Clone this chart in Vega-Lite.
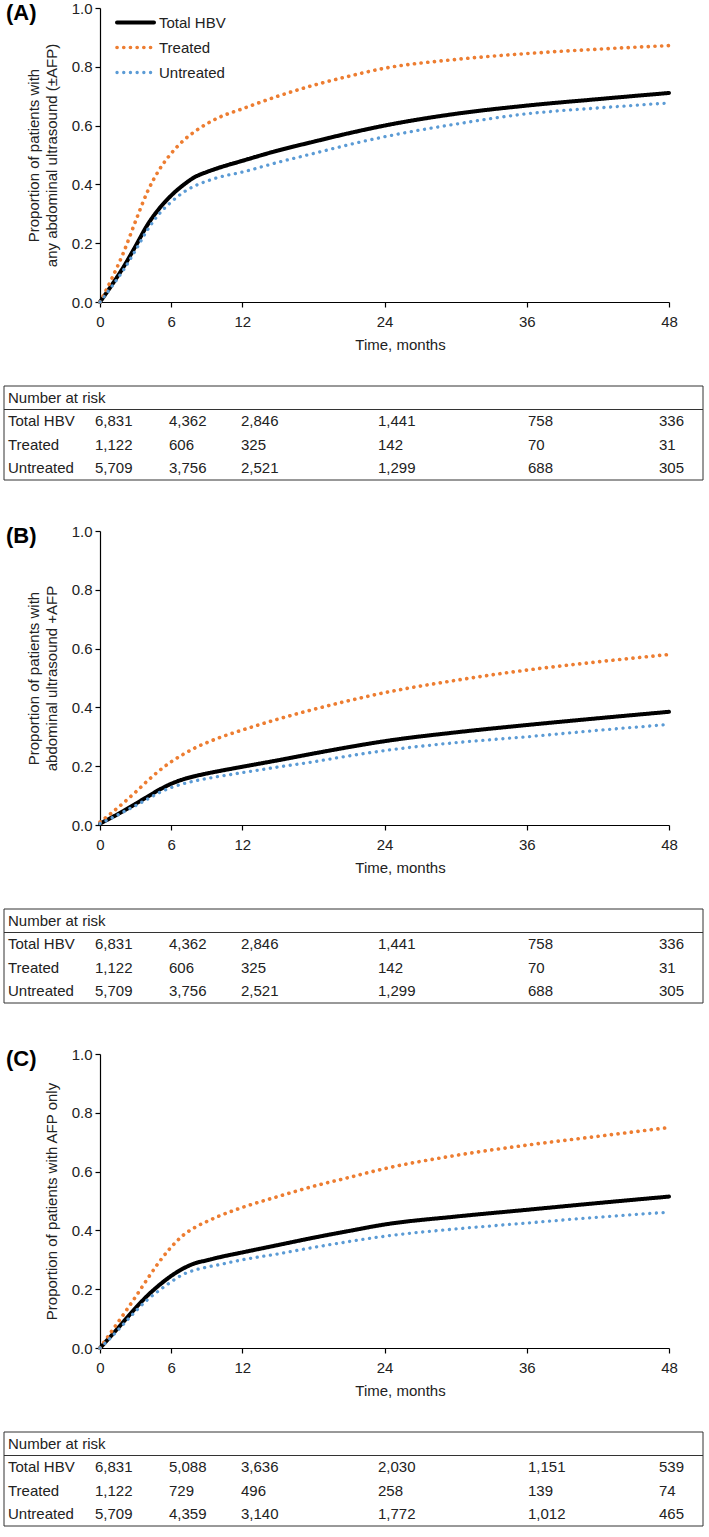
{
  "$schema": "https://vega.github.io/schema/vega-lite/v6.json",
  "padding": {"left": 3, "top": 1, "right": 6, "bottom": 1},
  "background": "white",
  "config": {
    "font": "Liberation Sans",
    "view": {"stroke": null},
    "axis": {"grid": false, "domainColor": "#000", "tickColor": "#000", "labelColor": "#222", "titleColor": "#222", "labelFontSize": 15, "titleFontSize": 15, "titleFontWeight": "normal", "tickSize": 5, "domainWidth": 1.2, "tickWidth": 1.2},
    "legend": {"labelFontSize": 15, "labelColor": "#222"}
  },
  "datasets": {
    "curves": [
      {"panel":"A","series":"Total HBV","month":0,"value":0},{"panel":"A","series":"Total HBV","month":1,"value":0.058},{"panel":"A","series":"Total HBV","month":2,"value":0.12},{"panel":"A","series":"Total HBV","month":3,"value":0.19},{"panel":"A","series":"Total HBV","month":4,"value":0.262},{"panel":"A","series":"Total HBV","month":5,"value":0.318},{"panel":"A","series":"Total HBV","month":6,"value":0.362},{"panel":"A","series":"Total HBV","month":7,"value":0.397},{"panel":"A","series":"Total HBV","month":8,"value":0.425},{"panel":"A","series":"Total HBV","month":9,"value":0.442},{"panel":"A","series":"Total HBV","month":10,"value":0.456},{"panel":"A","series":"Total HBV","month":12,"value":0.48},{"panel":"A","series":"Total HBV","month":15,"value":0.515},{"panel":"A","series":"Total HBV","month":18,"value":0.545},{"panel":"A","series":"Total HBV","month":21,"value":0.574},{"panel":"A","series":"Total HBV","month":24,"value":0.6},{"panel":"A","series":"Total HBV","month":30,"value":0.64},{"panel":"A","series":"Total HBV","month":36,"value":0.668},{"panel":"A","series":"Total HBV","month":42,"value":0.69},{"panel":"A","series":"Total HBV","month":48,"value":0.711},
      {"panel":"A","series":"Treated","month":0,"value":0},{"panel":"A","series":"Treated","month":1,"value":0.08},{"panel":"A","series":"Treated","month":2,"value":0.17},{"panel":"A","series":"Treated","month":3,"value":0.275},{"panel":"A","series":"Treated","month":4,"value":0.375},{"panel":"A","series":"Treated","month":5,"value":0.45},{"panel":"A","series":"Treated","month":6,"value":0.505},{"panel":"A","series":"Treated","month":7,"value":0.548},{"panel":"A","series":"Treated","month":8,"value":0.58},{"panel":"A","series":"Treated","month":9,"value":0.606},{"panel":"A","series":"Treated","month":10,"value":0.627},{"panel":"A","series":"Treated","month":12,"value":0.657},{"panel":"A","series":"Treated","month":15,"value":0.7},{"panel":"A","series":"Treated","month":18,"value":0.737},{"panel":"A","series":"Treated","month":21,"value":0.768},{"panel":"A","series":"Treated","month":24,"value":0.795},{"panel":"A","series":"Treated","month":30,"value":0.825},{"panel":"A","series":"Treated","month":36,"value":0.845},{"panel":"A","series":"Treated","month":42,"value":0.86},{"panel":"A","series":"Treated","month":48,"value":0.872},
      {"panel":"A","series":"Untreated","month":0,"value":0},{"panel":"A","series":"Untreated","month":1,"value":0.053},{"panel":"A","series":"Untreated","month":2,"value":0.11},{"panel":"A","series":"Untreated","month":3,"value":0.176},{"panel":"A","series":"Untreated","month":4,"value":0.245},{"panel":"A","series":"Untreated","month":5,"value":0.3},{"panel":"A","series":"Untreated","month":6,"value":0.34},{"panel":"A","series":"Untreated","month":7,"value":0.372},{"panel":"A","series":"Untreated","month":8,"value":0.395},{"panel":"A","series":"Untreated","month":9,"value":0.411},{"panel":"A","series":"Untreated","month":10,"value":0.424},{"panel":"A","series":"Untreated","month":12,"value":0.442},{"panel":"A","series":"Untreated","month":15,"value":0.475},{"panel":"A","series":"Untreated","month":18,"value":0.505},{"panel":"A","series":"Untreated","month":21,"value":0.535},{"panel":"A","series":"Untreated","month":24,"value":0.562},{"panel":"A","series":"Untreated","month":30,"value":0.605},{"panel":"A","series":"Untreated","month":36,"value":0.64},{"panel":"A","series":"Untreated","month":42,"value":0.66},{"panel":"A","series":"Untreated","month":48,"value":0.677},
      {"panel":"B","series":"Total HBV","month":0,"value":0.005},{"panel":"B","series":"Total HBV","month":1,"value":0.026},{"panel":"B","series":"Total HBV","month":2,"value":0.048},{"panel":"B","series":"Total HBV","month":3,"value":0.072},{"panel":"B","series":"Total HBV","month":4,"value":0.096},{"panel":"B","series":"Total HBV","month":5,"value":0.12},{"panel":"B","series":"Total HBV","month":6,"value":0.14},{"panel":"B","series":"Total HBV","month":7,"value":0.155},{"panel":"B","series":"Total HBV","month":8,"value":0.166},{"panel":"B","series":"Total HBV","month":9,"value":0.175},{"panel":"B","series":"Total HBV","month":10,"value":0.183},{"panel":"B","series":"Total HBV","month":12,"value":0.198},{"panel":"B","series":"Total HBV","month":15,"value":0.22},{"panel":"B","series":"Total HBV","month":18,"value":0.243},{"panel":"B","series":"Total HBV","month":21,"value":0.265},{"panel":"B","series":"Total HBV","month":24,"value":0.285},{"panel":"B","series":"Total HBV","month":30,"value":0.315},{"panel":"B","series":"Total HBV","month":36,"value":0.34},{"panel":"B","series":"Total HBV","month":42,"value":0.363},{"panel":"B","series":"Total HBV","month":48,"value":0.385},
      {"panel":"B","series":"Treated","month":0,"value":0.01},{"panel":"B","series":"Treated","month":1,"value":0.042},{"panel":"B","series":"Treated","month":2,"value":0.076},{"panel":"B","series":"Treated","month":3,"value":0.112},{"panel":"B","series":"Treated","month":4,"value":0.15},{"panel":"B","series":"Treated","month":5,"value":0.185},{"panel":"B","series":"Treated","month":6,"value":0.215},{"panel":"B","series":"Treated","month":7,"value":0.24},{"panel":"B","series":"Treated","month":8,"value":0.262},{"panel":"B","series":"Treated","month":9,"value":0.28},{"panel":"B","series":"Treated","month":10,"value":0.296},{"panel":"B","series":"Treated","month":12,"value":0.323},{"panel":"B","series":"Treated","month":15,"value":0.36},{"panel":"B","series":"Treated","month":18,"value":0.393},{"panel":"B","series":"Treated","month":21,"value":0.423},{"panel":"B","series":"Treated","month":24,"value":0.45},{"panel":"B","series":"Treated","month":30,"value":0.492},{"panel":"B","series":"Treated","month":36,"value":0.527},{"panel":"B","series":"Treated","month":42,"value":0.555},{"panel":"B","series":"Treated","month":48,"value":0.58},
      {"panel":"B","series":"Untreated","month":0,"value":0.005},{"panel":"B","series":"Untreated","month":1,"value":0.024},{"panel":"B","series":"Untreated","month":2,"value":0.045},{"panel":"B","series":"Untreated","month":3,"value":0.066},{"panel":"B","series":"Untreated","month":4,"value":0.088},{"panel":"B","series":"Untreated","month":5,"value":0.11},{"panel":"B","series":"Untreated","month":6,"value":0.127},{"panel":"B","series":"Untreated","month":7,"value":0.14},{"panel":"B","series":"Untreated","month":8,"value":0.15},{"panel":"B","series":"Untreated","month":9,"value":0.158},{"panel":"B","series":"Untreated","month":10,"value":0.165},{"panel":"B","series":"Untreated","month":12,"value":0.178},{"panel":"B","series":"Untreated","month":15,"value":0.197},{"panel":"B","series":"Untreated","month":18,"value":0.215},{"panel":"B","series":"Untreated","month":21,"value":0.235},{"panel":"B","series":"Untreated","month":24,"value":0.253},{"panel":"B","series":"Untreated","month":30,"value":0.28},{"panel":"B","series":"Untreated","month":36,"value":0.3},{"panel":"B","series":"Untreated","month":42,"value":0.322},{"panel":"B","series":"Untreated","month":48,"value":0.342},
      {"panel":"C","series":"Total HBV","month":0,"value":0},{"panel":"C","series":"Total HBV","month":1,"value":0.044},{"panel":"C","series":"Total HBV","month":2,"value":0.09},{"panel":"C","series":"Total HBV","month":3,"value":0.136},{"panel":"C","series":"Total HBV","month":4,"value":0.178},{"panel":"C","series":"Total HBV","month":5,"value":0.214},{"panel":"C","series":"Total HBV","month":6,"value":0.245},{"panel":"C","series":"Total HBV","month":7,"value":0.27},{"panel":"C","series":"Total HBV","month":8,"value":0.288},{"panel":"C","series":"Total HBV","month":9,"value":0.298},{"panel":"C","series":"Total HBV","month":10,"value":0.308},{"panel":"C","series":"Total HBV","month":12,"value":0.325},{"panel":"C","series":"Total HBV","month":15,"value":0.35},{"panel":"C","series":"Total HBV","month":18,"value":0.375},{"panel":"C","series":"Total HBV","month":21,"value":0.398},{"panel":"C","series":"Total HBV","month":24,"value":0.42},{"panel":"C","series":"Total HBV","month":30,"value":0.447},{"panel":"C","series":"Total HBV","month":36,"value":0.47},{"panel":"C","series":"Total HBV","month":42,"value":0.493},{"panel":"C","series":"Total HBV","month":48,"value":0.515},
      {"panel":"C","series":"Treated","month":0,"value":0},{"panel":"C","series":"Treated","month":1,"value":0.058},{"panel":"C","series":"Treated","month":2,"value":0.115},{"panel":"C","series":"Treated","month":3,"value":0.174},{"panel":"C","series":"Treated","month":4,"value":0.235},{"panel":"C","series":"Treated","month":5,"value":0.293},{"panel":"C","series":"Treated","month":6,"value":0.343},{"panel":"C","series":"Treated","month":7,"value":0.383},{"panel":"C","series":"Treated","month":8,"value":0.41},{"panel":"C","series":"Treated","month":9,"value":0.43},{"panel":"C","series":"Treated","month":10,"value":0.448},{"panel":"C","series":"Treated","month":12,"value":0.478},{"panel":"C","series":"Treated","month":15,"value":0.515},{"panel":"C","series":"Treated","month":18,"value":0.55},{"panel":"C","series":"Treated","month":21,"value":0.58},{"panel":"C","series":"Treated","month":24,"value":0.61},{"panel":"C","series":"Treated","month":30,"value":0.655},{"panel":"C","series":"Treated","month":36,"value":0.69},{"panel":"C","series":"Treated","month":42,"value":0.72},{"panel":"C","series":"Treated","month":48,"value":0.75},
      {"panel":"C","series":"Untreated","month":0,"value":0},{"panel":"C","series":"Untreated","month":1,"value":0.039},{"panel":"C","series":"Untreated","month":2,"value":0.082},{"panel":"C","series":"Untreated","month":3,"value":0.125},{"panel":"C","series":"Untreated","month":4,"value":0.164},{"panel":"C","series":"Untreated","month":5,"value":0.196},{"panel":"C","series":"Untreated","month":6,"value":0.225},{"panel":"C","series":"Untreated","month":7,"value":0.25},{"panel":"C","series":"Untreated","month":8,"value":0.265},{"panel":"C","series":"Untreated","month":9,"value":0.275},{"panel":"C","series":"Untreated","month":10,"value":0.283},{"panel":"C","series":"Untreated","month":12,"value":0.3},{"panel":"C","series":"Untreated","month":15,"value":0.32},{"panel":"C","series":"Untreated","month":18,"value":0.342},{"panel":"C","series":"Untreated","month":21,"value":0.362},{"panel":"C","series":"Untreated","month":24,"value":0.38},{"panel":"C","series":"Untreated","month":30,"value":0.405},{"panel":"C","series":"Untreated","month":36,"value":0.425},{"panel":"C","series":"Untreated","month":42,"value":0.445},{"panel":"C","series":"Untreated","month":48,"value":0.462}
    ],
    "risk": [
      {"panel":"A","group":"Total HBV","month":0,"n":6831},{"panel":"A","group":"Total HBV","month":6,"n":4362},{"panel":"A","group":"Total HBV","month":12,"n":2846},{"panel":"A","group":"Total HBV","month":24,"n":1441},{"panel":"A","group":"Total HBV","month":36,"n":758},{"panel":"A","group":"Total HBV","month":48,"n":336},
      {"panel":"A","group":"Treated","month":0,"n":1122},{"panel":"A","group":"Treated","month":6,"n":606},{"panel":"A","group":"Treated","month":12,"n":325},{"panel":"A","group":"Treated","month":24,"n":142},{"panel":"A","group":"Treated","month":36,"n":70},{"panel":"A","group":"Treated","month":48,"n":31},
      {"panel":"A","group":"Untreated","month":0,"n":5709},{"panel":"A","group":"Untreated","month":6,"n":3756},{"panel":"A","group":"Untreated","month":12,"n":2521},{"panel":"A","group":"Untreated","month":24,"n":1299},{"panel":"A","group":"Untreated","month":36,"n":688},{"panel":"A","group":"Untreated","month":48,"n":305},
      {"panel":"B","group":"Total HBV","month":0,"n":6831},{"panel":"B","group":"Total HBV","month":6,"n":4362},{"panel":"B","group":"Total HBV","month":12,"n":2846},{"panel":"B","group":"Total HBV","month":24,"n":1441},{"panel":"B","group":"Total HBV","month":36,"n":758},{"panel":"B","group":"Total HBV","month":48,"n":336},
      {"panel":"B","group":"Treated","month":0,"n":1122},{"panel":"B","group":"Treated","month":6,"n":606},{"panel":"B","group":"Treated","month":12,"n":325},{"panel":"B","group":"Treated","month":24,"n":142},{"panel":"B","group":"Treated","month":36,"n":70},{"panel":"B","group":"Treated","month":48,"n":31},
      {"panel":"B","group":"Untreated","month":0,"n":5709},{"panel":"B","group":"Untreated","month":6,"n":3756},{"panel":"B","group":"Untreated","month":12,"n":2521},{"panel":"B","group":"Untreated","month":24,"n":1299},{"panel":"B","group":"Untreated","month":36,"n":688},{"panel":"B","group":"Untreated","month":48,"n":305},
      {"panel":"C","group":"Total HBV","month":0,"n":6831},{"panel":"C","group":"Total HBV","month":6,"n":5088},{"panel":"C","group":"Total HBV","month":12,"n":3636},{"panel":"C","group":"Total HBV","month":24,"n":2030},{"panel":"C","group":"Total HBV","month":36,"n":1151},{"panel":"C","group":"Total HBV","month":48,"n":539},
      {"panel":"C","group":"Treated","month":0,"n":1122},{"panel":"C","group":"Treated","month":6,"n":729},{"panel":"C","group":"Treated","month":12,"n":496},{"panel":"C","group":"Treated","month":24,"n":258},{"panel":"C","group":"Treated","month":36,"n":139},{"panel":"C","group":"Treated","month":48,"n":74},
      {"panel":"C","group":"Untreated","month":0,"n":5709},{"panel":"C","group":"Untreated","month":6,"n":4359},{"panel":"C","group":"Untreated","month":12,"n":3140},{"panel":"C","group":"Untreated","month":24,"n":1772},{"panel":"C","group":"Untreated","month":36,"n":1012},{"panel":"C","group":"Untreated","month":48,"n":465}
    ]
  },
  "spacing": 43,
  "vconcat": [
    {
      "spacing": 33,
      "vconcat": [
        {
          "width": 569, "height": 294,
          "data": {"name": "curves"},
          "transform": [{"filter": "datum.panel === 'A'"}],
          "title": {"text": "(A)", "anchor": "start", "frame": "group", "orient": "top", "offset": 0, "dx": -94, "dy": 34, "baseline": "middle", "fontSize": 22, "fontWeight": "bold", "color": "#000"},
          "mark": {"type": "line", "interpolate": "monotone", "strokeCap": "round"},
          "encoding": {
            "x": {"field": "month", "type": "quantitative", "scale": {"domain": [0, 48], "nice": false, "zero": false}, "axis": {"values": [0, 6, 12, 24, 36, 48], "title": "Time, months", "titleX": 300, "labelPadding": 7, "titlePadding": 8, "labelFlush": false}},
            "y": {"field": "value", "type": "quantitative", "scale": {"domain": [0, 1], "nice": false}, "axis": {"values": [0, 0.2, 0.4, 0.6, 0.8, 1], "format": ".1f", "title": ["Proportion of patients with", "any abdominal ultrasound (±AFP)"], "labelPadding": 3, "titlePadding": 12, "titleLineHeight": 18}},
            "color": {"field": "series", "type": "nominal", "scale": {"domain": ["Total HBV", "Treated", "Untreated"], "range": ["#000000", "#ED7D31", "#5B9BD5"]}, "legend": {"orient": "none", "legendX": 15, "legendY": 2, "title": null, "symbolType": "stroke", "symbolSize": 1369, "clipHeight": 25, "labelOffset": 3, "padding": 0, "rowPadding": 0, "encode": {"symbols": {"update": {"strokeCap": {"value": "round"}}}}}},
            "strokeDash": {"field": "series", "type": "nominal", "scale": {"domain": ["Total HBV", "Treated", "Untreated"], "range": [[1, 0], [0.1, 6.6], [0.1, 6.6]]}, "legend": {"orient": "none", "legendX": 15, "legendY": 2, "title": null, "symbolType": "stroke", "symbolSize": 1369, "clipHeight": 25, "labelOffset": 3, "padding": 0, "rowPadding": 0, "encode": {"symbols": {"update": {"strokeCap": {"value": "round"}}}}}},
            "strokeWidth": {"field": "series", "type": "nominal", "scale": {"domain": ["Total HBV", "Treated", "Untreated"], "range": [4, 3.3, 3.3]}, "legend": {"orient": "none", "legendX": 15, "legendY": 2, "title": null, "symbolType": "stroke", "symbolSize": 1369, "clipHeight": 25, "labelOffset": 3, "padding": 0, "rowPadding": 0, "encode": {"symbols": {"update": {"strokeCap": {"value": "round"}}}}}}
          }
        },
        {
          "width": 569, "height": 94,
          "data": {"name": "risk"},
          "transform": [{"filter": "datum.panel === 'A'"}],
          "layer": [
            {
              "transform": [{"aggregate": [{"op": "count", "as": "cells"}]}],
              "mark": {"type": "rect", "fill": "transparent", "stroke": "#333", "strokeWidth": 1},
              "encoding": {
                "x": {"datum": -8, "type": "quantitative", "scale": {"domain": [-8, -7, 0, 6, 12, 24, 36, 48, 50], "range": [-96, -92, -5, 69, 141, 278, 428, 559, 603], "nice": false, "zero": false}, "axis": null},
                "x2": {"datum": 50}
              }
            },
            {
              "transform": [{"aggregate": [{"op": "count", "as": "cells"}]}],
              "mark": {"type": "rule", "stroke": "#333", "strokeWidth": 1},
              "encoding": {
                "x": {"datum": -8, "type": "quantitative", "axis": null},
                "x2": {"datum": 50},
                "y": {"datum": "Total HBV", "type": "nominal", "bandPosition": 0, "scale": {"domain": ["Number at risk", "Total HBV", "Treated", "Untreated"], "paddingInner": 0, "paddingOuter": 0}, "axis": null}
              }
            },
            {
              "transform": [{"aggregate": [{"op": "count", "as": "cells"}]}],
              "mark": {"type": "text", "align": "left", "baseline": "middle", "fontSize": 15, "color": "#222"},
              "encoding": {
                "x": {"datum": -7, "type": "quantitative", "axis": null},
                "y": {"datum": "Number at risk", "type": "nominal", "axis": null},
                "text": {"value": "Number at risk"}
              }
            },
            {
              "transform": [{"filter": "datum.month === 0"}],
              "mark": {"type": "text", "align": "left", "baseline": "middle", "fontSize": 15, "color": "#222"},
              "encoding": {
                "x": {"datum": -7, "type": "quantitative", "axis": null},
                "y": {"field": "group", "type": "nominal", "axis": null},
                "text": {"field": "group"}
              }
            },
            {
              "mark": {"type": "text", "align": "left", "baseline": "middle", "fontSize": 15, "color": "#222"},
              "encoding": {
                "x": {"field": "month", "type": "quantitative", "axis": null},
                "y": {"field": "group", "type": "nominal", "axis": null},
                "text": {"field": "n", "format": ",d"}
              }
            }
          ]
        }
      ]
    },
    {
      "spacing": 33,
      "vconcat": [
        {
          "width": 569, "height": 294,
          "data": {"name": "curves"},
          "transform": [{"filter": "datum.panel === 'B'"}],
          "title": {"text": "(B)", "anchor": "start", "frame": "group", "orient": "top", "offset": 0, "dx": -94, "dy": 34, "baseline": "middle", "fontSize": 22, "fontWeight": "bold", "color": "#000"},
          "mark": {"type": "line", "interpolate": "monotone", "strokeCap": "round"},
          "encoding": {
            "x": {"field": "month", "type": "quantitative", "scale": {"domain": [0, 48], "nice": false, "zero": false}, "axis": {"values": [0, 6, 12, 24, 36, 48], "title": "Time, months", "titleX": 300, "labelPadding": 7, "titlePadding": 8, "labelFlush": false}},
            "y": {"field": "value", "type": "quantitative", "scale": {"domain": [0, 1], "nice": false}, "axis": {"values": [0, 0.2, 0.4, 0.6, 0.8, 1], "format": ".1f", "title": ["Proportion of patients with", "abdominal ultrasound +AFP"], "labelPadding": 3, "titlePadding": 12, "titleLineHeight": 18}},
            "color": {"field": "series", "type": "nominal", "scale": {"domain": ["Total HBV", "Treated", "Untreated"], "range": ["#000000", "#ED7D31", "#5B9BD5"]}, "legend": {"orient": "none", "legendX": 15, "legendY": 2, "title": null, "symbolType": "stroke", "symbolSize": 1369, "clipHeight": 25, "labelOffset": 3, "padding": 0, "rowPadding": 0, "encode": {"symbols": {"update": {"strokeCap": {"value": "round"}}}}}},
            "strokeDash": {"field": "series", "type": "nominal", "scale": {"domain": ["Total HBV", "Treated", "Untreated"], "range": [[1, 0], [0.1, 6.6], [0.1, 6.6]]}, "legend": {"orient": "none", "legendX": 15, "legendY": 2, "title": null, "symbolType": "stroke", "symbolSize": 1369, "clipHeight": 25, "labelOffset": 3, "padding": 0, "rowPadding": 0, "encode": {"symbols": {"update": {"strokeCap": {"value": "round"}}}}}},
            "strokeWidth": {"field": "series", "type": "nominal", "scale": {"domain": ["Total HBV", "Treated", "Untreated"], "range": [4, 3.3, 3.3]}, "legend": {"orient": "none", "legendX": 15, "legendY": 2, "title": null, "symbolType": "stroke", "symbolSize": 1369, "clipHeight": 25, "labelOffset": 3, "padding": 0, "rowPadding": 0, "encode": {"symbols": {"update": {"strokeCap": {"value": "round"}}}}}}
          }
        },
        {
          "width": 569, "height": 94,
          "data": {"name": "risk"},
          "transform": [{"filter": "datum.panel === 'B'"}],
          "layer": [
            {
              "transform": [{"aggregate": [{"op": "count", "as": "cells"}]}],
              "mark": {"type": "rect", "fill": "transparent", "stroke": "#333", "strokeWidth": 1},
              "encoding": {
                "x": {"datum": -8, "type": "quantitative", "scale": {"domain": [-8, -7, 0, 6, 12, 24, 36, 48, 50], "range": [-96, -92, -5, 69, 141, 278, 428, 559, 603], "nice": false, "zero": false}, "axis": null},
                "x2": {"datum": 50}
              }
            },
            {
              "transform": [{"aggregate": [{"op": "count", "as": "cells"}]}],
              "mark": {"type": "rule", "stroke": "#333", "strokeWidth": 1},
              "encoding": {
                "x": {"datum": -8, "type": "quantitative", "axis": null},
                "x2": {"datum": 50},
                "y": {"datum": "Total HBV", "type": "nominal", "bandPosition": 0, "scale": {"domain": ["Number at risk", "Total HBV", "Treated", "Untreated"], "paddingInner": 0, "paddingOuter": 0}, "axis": null}
              }
            },
            {
              "transform": [{"aggregate": [{"op": "count", "as": "cells"}]}],
              "mark": {"type": "text", "align": "left", "baseline": "middle", "fontSize": 15, "color": "#222"},
              "encoding": {
                "x": {"datum": -7, "type": "quantitative", "axis": null},
                "y": {"datum": "Number at risk", "type": "nominal", "axis": null},
                "text": {"value": "Number at risk"}
              }
            },
            {
              "transform": [{"filter": "datum.month === 0"}],
              "mark": {"type": "text", "align": "left", "baseline": "middle", "fontSize": 15, "color": "#222"},
              "encoding": {
                "x": {"datum": -7, "type": "quantitative", "axis": null},
                "y": {"field": "group", "type": "nominal", "axis": null},
                "text": {"field": "group"}
              }
            },
            {
              "mark": {"type": "text", "align": "left", "baseline": "middle", "fontSize": 15, "color": "#222"},
              "encoding": {
                "x": {"field": "month", "type": "quantitative", "axis": null},
                "y": {"field": "group", "type": "nominal", "axis": null},
                "text": {"field": "n", "format": ",d"}
              }
            }
          ]
        }
      ]
    },
    {
      "spacing": 33,
      "vconcat": [
        {
          "width": 569, "height": 294,
          "data": {"name": "curves"},
          "transform": [{"filter": "datum.panel === 'C'"}],
          "title": {"text": "(C)", "anchor": "start", "frame": "group", "orient": "top", "offset": 0, "dx": -94, "dy": 34, "baseline": "middle", "fontSize": 22, "fontWeight": "bold", "color": "#000"},
          "mark": {"type": "line", "interpolate": "monotone", "strokeCap": "round"},
          "encoding": {
            "x": {"field": "month", "type": "quantitative", "scale": {"domain": [0, 48], "nice": false, "zero": false}, "axis": {"values": [0, 6, 12, 24, 36, 48], "title": "Time, months", "titleX": 300, "labelPadding": 7, "titlePadding": 8, "labelFlush": false}},
            "y": {"field": "value", "type": "quantitative", "scale": {"domain": [0, 1], "nice": false}, "axis": {"values": [0, 0.2, 0.4, 0.6, 0.8, 1], "format": ".1f", "title": "Proportion of patients with AFP only", "labelPadding": 3, "titlePadding": 12}},
            "color": {"field": "series", "type": "nominal", "scale": {"domain": ["Total HBV", "Treated", "Untreated"], "range": ["#000000", "#ED7D31", "#5B9BD5"]}, "legend": {"orient": "none", "legendX": 15, "legendY": 2, "title": null, "symbolType": "stroke", "symbolSize": 1369, "clipHeight": 25, "labelOffset": 3, "padding": 0, "rowPadding": 0, "encode": {"symbols": {"update": {"strokeCap": {"value": "round"}}}}}},
            "strokeDash": {"field": "series", "type": "nominal", "scale": {"domain": ["Total HBV", "Treated", "Untreated"], "range": [[1, 0], [0.1, 6.6], [0.1, 6.6]]}, "legend": {"orient": "none", "legendX": 15, "legendY": 2, "title": null, "symbolType": "stroke", "symbolSize": 1369, "clipHeight": 25, "labelOffset": 3, "padding": 0, "rowPadding": 0, "encode": {"symbols": {"update": {"strokeCap": {"value": "round"}}}}}},
            "strokeWidth": {"field": "series", "type": "nominal", "scale": {"domain": ["Total HBV", "Treated", "Untreated"], "range": [4, 3.3, 3.3]}, "legend": {"orient": "none", "legendX": 15, "legendY": 2, "title": null, "symbolType": "stroke", "symbolSize": 1369, "clipHeight": 25, "labelOffset": 3, "padding": 0, "rowPadding": 0, "encode": {"symbols": {"update": {"strokeCap": {"value": "round"}}}}}}
          }
        },
        {
          "width": 569, "height": 94,
          "data": {"name": "risk"},
          "transform": [{"filter": "datum.panel === 'C'"}],
          "layer": [
            {
              "transform": [{"aggregate": [{"op": "count", "as": "cells"}]}],
              "mark": {"type": "rect", "fill": "transparent", "stroke": "#333", "strokeWidth": 1},
              "encoding": {
                "x": {"datum": -8, "type": "quantitative", "scale": {"domain": [-8, -7, 0, 6, 12, 24, 36, 48, 50], "range": [-96, -92, -5, 69, 141, 278, 428, 559, 603], "nice": false, "zero": false}, "axis": null},
                "x2": {"datum": 50}
              }
            },
            {
              "transform": [{"aggregate": [{"op": "count", "as": "cells"}]}],
              "mark": {"type": "rule", "stroke": "#333", "strokeWidth": 1},
              "encoding": {
                "x": {"datum": -8, "type": "quantitative", "axis": null},
                "x2": {"datum": 50},
                "y": {"datum": "Total HBV", "type": "nominal", "bandPosition": 0, "scale": {"domain": ["Number at risk", "Total HBV", "Treated", "Untreated"], "paddingInner": 0, "paddingOuter": 0}, "axis": null}
              }
            },
            {
              "transform": [{"aggregate": [{"op": "count", "as": "cells"}]}],
              "mark": {"type": "text", "align": "left", "baseline": "middle", "fontSize": 15, "color": "#222"},
              "encoding": {
                "x": {"datum": -7, "type": "quantitative", "axis": null},
                "y": {"datum": "Number at risk", "type": "nominal", "axis": null},
                "text": {"value": "Number at risk"}
              }
            },
            {
              "transform": [{"filter": "datum.month === 0"}],
              "mark": {"type": "text", "align": "left", "baseline": "middle", "fontSize": 15, "color": "#222"},
              "encoding": {
                "x": {"datum": -7, "type": "quantitative", "axis": null},
                "y": {"field": "group", "type": "nominal", "axis": null},
                "text": {"field": "group"}
              }
            },
            {
              "mark": {"type": "text", "align": "left", "baseline": "middle", "fontSize": 15, "color": "#222"},
              "encoding": {
                "x": {"field": "month", "type": "quantitative", "axis": null},
                "y": {"field": "group", "type": "nominal", "axis": null},
                "text": {"field": "n", "format": ",d"}
              }
            }
          ]
        }
      ]
    }
  ]
}
